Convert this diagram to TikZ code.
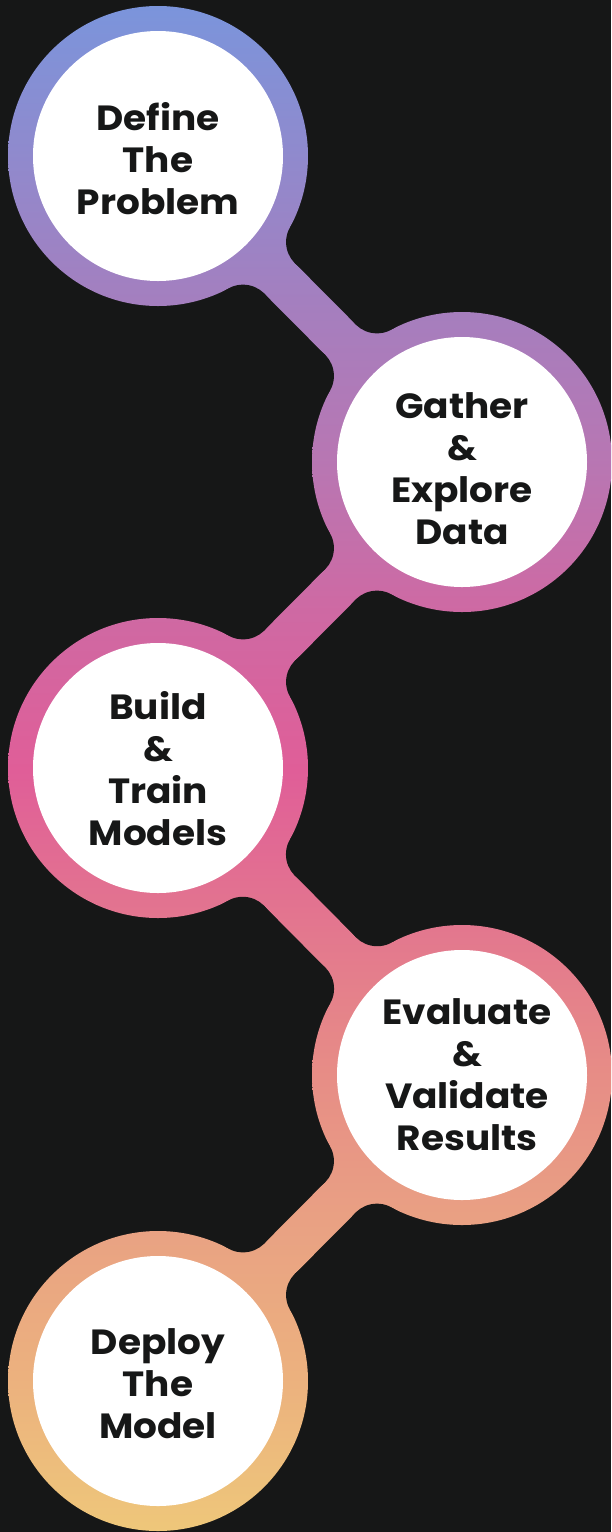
\documentclass[tikz,border=0pt]{standalone}
\usepackage{fontspec}
\setmainfont{Poppins}[FakeStretch=1.07]
\usetikzlibrary{calc}
\definecolor{bg}{HTML}{161717}
\definecolor{g0}{HTML}{EEC77A}
\definecolor{g1}{HTML}{ECB27E}
\definecolor{g2}{HTML}{E9A283}
\definecolor{g3}{HTML}{E78D86}
\definecolor{g4}{HTML}{E3788E}
\definecolor{g5}{HTML}{E05E98}
\definecolor{g6}{HTML}{CD6AA4}
\definecolor{g7}{HTML}{B976B2}
\definecolor{g8}{HTML}{A47FBF}
\definecolor{g9}{HTML}{7A95DC}
\pgfdeclareverticalshading{ringgrad}{100bp}{color(0bp)=(g0); color(25bp)=(g0); color(29.8bp)=(g1); color(34.85bp)=(g2); color(39.9bp)=(g3); color(44.5bp)=(g4); color(49.85bp)=(g5); color(55.4bp)=(g6); color(59.65bp)=(g7); color(65.2bp)=(g8); color(75bp)=(g9); color(100bp)=(g9)}
\newcommand\gpiece[1]{\begin{scope}\clip #1;\shade[shading=ringgrad] (0,0) rectangle (611,1532);\end{scope}}
\tikzset{
  inner/.style={circle, fill=white, minimum size=250pt, inner sep=0pt},
  lbl/.style={font=\fontsize{35}{42}\selectfont\bfseries, text=bg, align=center, inner sep=0pt},
}
\begin{document}
\begin{tikzpicture}[x=1pt,y=-1pt]
\fill[bg] (0,0) rectangle (611,1532);
\useasboundingbox (0,0) rectangle (611,1532);
\def\uu{172.475}
\coordinate (c1) at (158,156);
\coordinate (c2) at (462,462);
\coordinate (c3) at (158,768);
\coordinate (c4) at (462,1075);
\coordinate (c5) at (158,1381);
% ring discs
\foreach \c in {c1,c2,c3,c4,c5}{\gpiece{(\c) circle[radius=150]}}
% bars and fillets
\foreach \a/\b/\i in {c1/c2/1, c2/c3/2, c3/c4/3, c4/c5/4}{
  \coordinate (ma\i) at ($(\a)!\uu pt!(\b)$);
  \coordinate (mb\i) at ($(\b)!\uu pt!(\a)$);
  \coordinate (fa\i p) at ($(ma\i)!51.5pt!90:(\b)$);
  \coordinate (fa\i q) at ($(ma\i)!51.5pt!-90:(\b)$);
  \coordinate (ta\i p) at ($(ma\i)!21.5pt!90:(\b)$);
  \coordinate (ta\i q) at ($(ma\i)!21.5pt!-90:(\b)$);
  \coordinate (fb\i p) at ($(mb\i)!51.5pt!90:(\a)$);
  \coordinate (fb\i q) at ($(mb\i)!51.5pt!-90:(\a)$);
  \coordinate (tb\i p) at ($(mb\i)!21.5pt!90:(\a)$);
  \coordinate (tb\i q) at ($(mb\i)!21.5pt!-90:(\a)$);
  \gpiece{($(\a)!21.5pt!90:(\b)$) -- ($(\b)!21.5pt!-90:(\a)$) -- ($(\b)!21.5pt!90:(\a)$) -- ($(\a)!21.5pt!-90:(\b)$) -- cycle}
  \gpiece{(\a) -- (fa\i p) -- (ta\i p) -- cycle}
  \gpiece{(\a) -- (fa\i q) -- (ta\i q) -- cycle}
  \gpiece{(\b) -- (fb\i p) -- (tb\i p) -- cycle}
  \gpiece{(\b) -- (fb\i q) -- (tb\i q) -- cycle}
}
\foreach \i in {1,2,3,4}{
  \fill[bg] (fa\i p) circle[radius=30];
  \fill[bg] (fa\i q) circle[radius=30];
  \fill[bg] (fb\i p) circle[radius=30];
  \fill[bg] (fb\i q) circle[radius=30];
}
% inner white circles
\node[inner] (w1) at (c1) {};
\node[inner] (w2) at (c2) {};
\node[inner] (w3) at (c3) {};
\node[inner] (w4) at (c4) {};
\node[inner] (w5) at (c5) {};
% labels
\node[lbl] (l1) at (158,159) {Define\\The\\Problem};
\node[lbl] (l2) at (462,469) {Gather\\\&\\Explore\\Data};
\node[lbl] (l3) at (158,769) {Build\\\&\\Train\\Models};
\node[lbl] (l4) at (467,1075) {Evaluate\\\&\\Validate\\Results};
\node[lbl] (l5) at (158,1384) {Deploy\\The\\Model};
\end{tikzpicture}
\end{document}
